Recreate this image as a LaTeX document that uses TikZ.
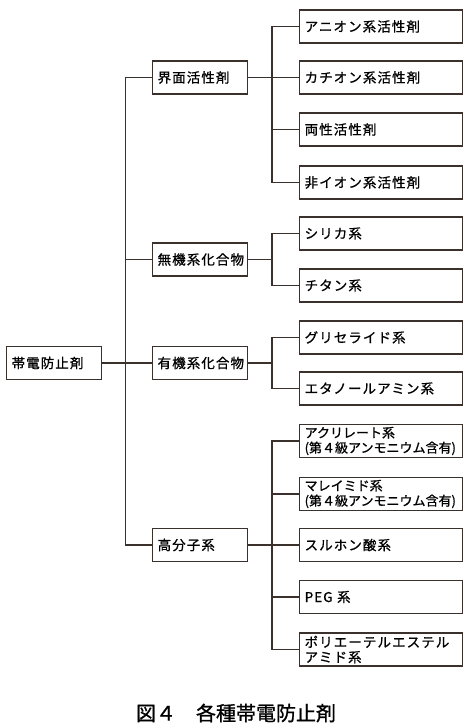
\documentclass[tikz,border=0pt]{standalone}
\usepackage{fontspec}
\newfontfamily\jp[LetterSpace=8, FakeBold=0.9]{Noto Sans CJK JP}
\newfontfamily\jpcap[FakeBold=0.9]{Noto Sans CJK JP}
\usetikzlibrary{calc}
\usetikzlibrary{positioning}
\definecolor{linecol}{HTML}{3A302C}
\tikzset{
  catbox/.style={draw=linecol, line width=1.3pt, minimum height=33pt, inner xsep=5pt,
    inner ysep=1pt, align=left, anchor=west, text=black,
    font=\jp\fontsize{13.5}{15}\selectfont},
  leafbox/.style={catbox, text width=153pt},
  midbox/.style={catbox, text width=85pt},
  twoline/.style={font=\jpcap\fontsize{13}{15}\selectfont},
  link/.style={draw=linecol, line width=1.3pt}
}
\begin{document}
\begin{tikzpicture}[x=1pt, y=-1pt]
                \useasboundingbox (0,0) rectangle (466,728);
                % root and first level
                \node[midbox] (taiden) at (6,363) {帯電防止剤};
                \node[midbox] (kaimen) at (152,77.5) {界面活性剤};
                \node[midbox] (muki) at (152,259.5) {無機系化合物};
                \node[midbox] (yuki) at (152,363) {有機系化合物};
                \node[midbox] (kobunshi) at (152,545) {高分子系};
                % second level
                \node[leafbox] (anion) at (299,26.5) {アニオン系活性剤};
                \node[leafbox] (cation) at (299,77.5) {カチオン系活性剤};
                \node[leafbox] (ryosei) at (299,129.5) {両性活性剤};
                \node[leafbox] (nonion) at (299,182.5) {非イオン系活性剤};
                \node[leafbox] (silica) at (299,233.5) {シリカ系};
                \node[leafbox] (titan) at (299,285.5) {チタン系};
                \node[leafbox] (glyceride) at (299,337.5) {グリセライド系};
                \node[leafbox] (amine) at (299,388.5) {エタノールアミン系};
                \node[leafbox, twoline] (acrylate) at (299,441) {アクリレート系\\(第４級アンモニウム含有)};
                \node[leafbox, twoline] (maleimide) at (299,494) {マレイミド系\\(第４級アンモニウム含有)};
                \node[leafbox] (sulfone) at (299,545) {スルホン酸系};
                \node[leafbox] (peg) at (299,597) {PEG 系};
                \node[leafbox, font=\jp\fontsize{13.5}{15}\selectfont] (polyether) at (299,649.5) {ポリエーテルエステル\\アミド系};
                % trunk and branch points
                \coordinate (trunk) at (125.7,363);
                \coordinate (bkaimen) at (272,77.5);
                \coordinate (bmuki) at (272,259.5);
                \coordinate (byuki) at (272,363);
                \coordinate (bkobunshi) at (272,545);
                \path[link] (taiden.east) -- (yuki.west);
                \path[link] (kaimen.west) -| (trunk) |- (kobunshi.west);
                \path[link] (trunk |- muki.west) -- (muki.west);
                \path[link] (kaimen.east) -- (cation.west);
                \path[link] (anion.west) -| (bkaimen) |- (nonion.west);
                \path[link] (bkaimen |- ryosei.west) -- (ryosei.west);
                \path[link] (muki.east) -- (bmuki);
                \path[link] (silica.west) -| (bmuki) |- (titan.west);
                \path[link] (yuki.east) -- (byuki);
                \path[link] (glyceride.west) -| (byuki) |- (amine.west);
                \path[link] (kobunshi.east) -- (sulfone.west);
                \path[link] (acrylate.west) -| (bkobunshi) |- (polyether.west);
                \path[link] (bkobunshi |- maleimide.west) -- (maleimide.west);
                \path[link] (bkobunshi |- peg.west) -- (peg.west);
                % caption
                \node[font=\jpcap\fontsize{20}{22}\selectfont] (caption) at (236,713) {図４　各種帯電防止剤};
\end{tikzpicture}
\end{document}
